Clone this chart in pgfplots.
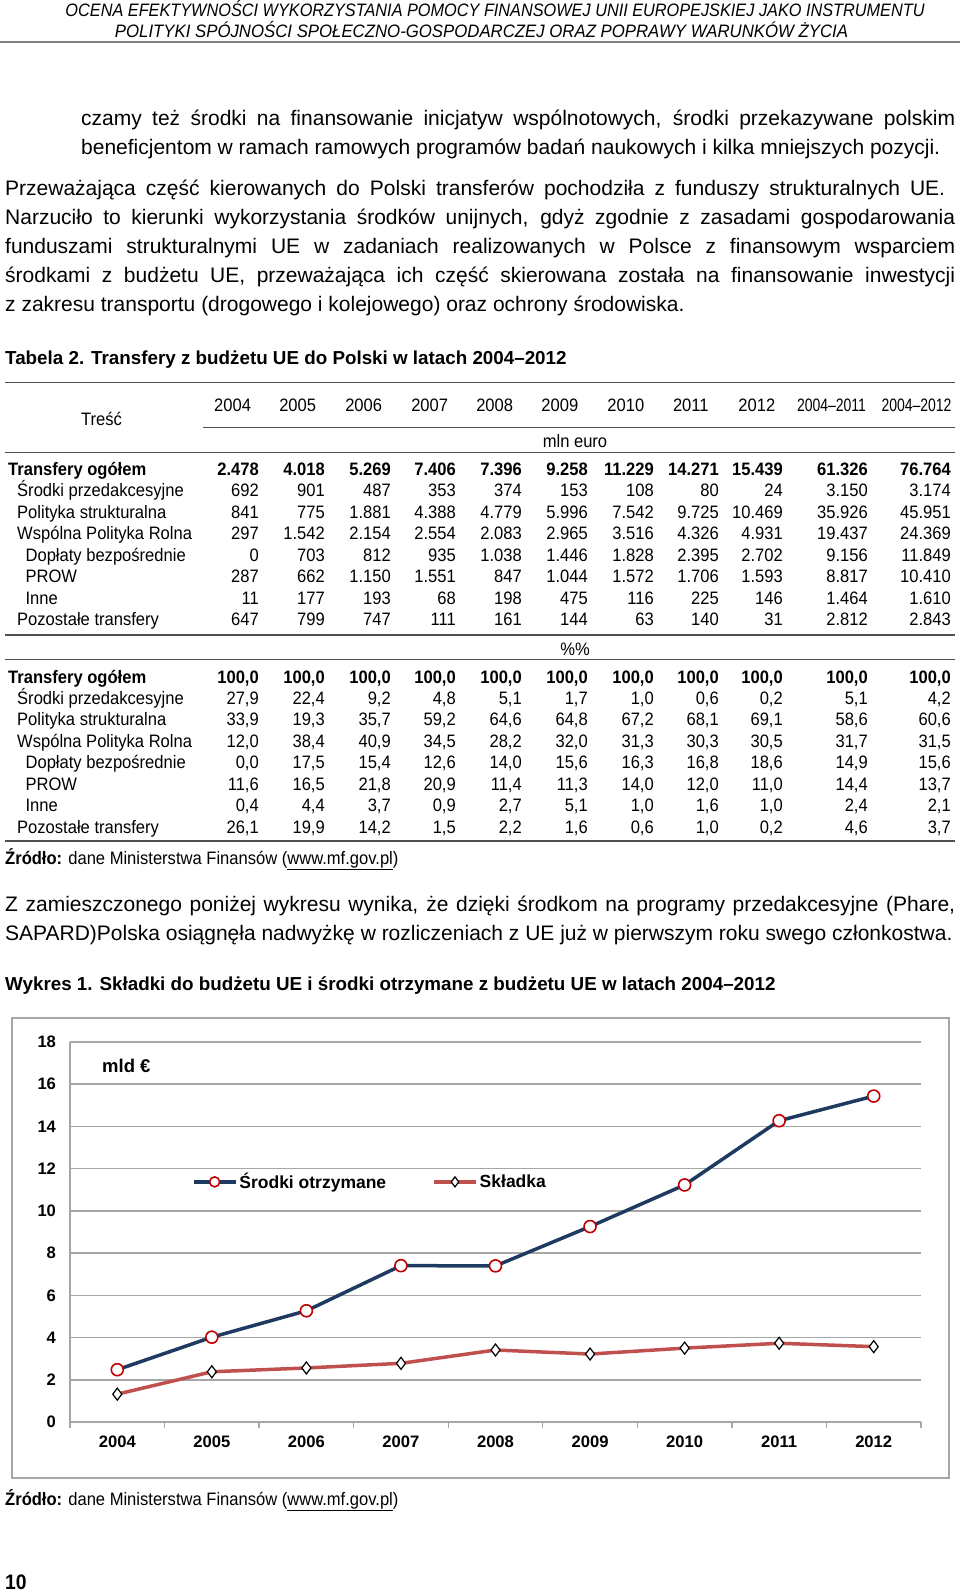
\documentclass[border=0pt]{standalone}
\usepackage{fontspec}
\setmainfont{Liberation Sans}
\newfontfamily\narrow[FakeStretch=0.92]{Liberation Sans}
\usepackage{graphicx}
\usepackage{pgfplots}
\pgfplotsset{compat=1.18}
\definecolor{navy}{HTML}{1F3A60}
\definecolor{mred}{HTML}{C00000}
\definecolor{salmon}{HTML}{C0504D}
\definecolor{rulegray}{HTML}{808080}
\definecolor{tgray}{HTML}{505050}
\newcommand\fs[1]{\fontsize{#1}{#1}\selectfont}
\newcommand\tf{\narrow\fs{18}}
\newcommand\jl[4]{\node[anchor=base west,inner sep=0] at (#1,#2) {\makebox[#3pt][s]{#4}};}
\newcommand\nl[3]{\node[anchor=base west,inner sep=0] at (#1,#2) {#3};}
\newcommand\trow[5]{%
  \node[anchor=base west,inner sep=0,font=#5] at (#2,#1) {#3};
  \foreach \v [count=\i] in {#4} {%
    \pgfmathsetmacro\cx{{259,325,391,456,522,588,654,719,783,868,951}[\i-1]}%
    \node[anchor=base east,inner sep=0,font=#5] at (\cx,#1) {\v};}%
}
\begin{document}
\begin{tikzpicture}
\begin{scope}[x=1pt,y=-1pt]
\path (0,0) rectangle (960,1593);
% header
\node[inner sep=0,anchor=base] at (495,16.5) {\narrow\itshape\fs{18}\resizebox{859pt}{\height}{OCENA EFEKTYWNOŚCI WYKORZYSTANIA POMOCY FINANSOWEJ UNII EUROPEJSKIEJ JAKO INSTRUMENTU}};
\node[inner sep=0,anchor=base] at (481.5,37) {\narrow\itshape\fs{18}\resizebox{733pt}{\height}{POLITYKI SPÓJNOŚCI SPOŁECZNO-GOSPODARCZEJ ORAZ POPRAWY WARUNKÓW ŻYCIA}};
\draw[rulegray,line width=2.5pt] (0,42) -- (960,42);
% body text
\begin{scope}[font=\fs{21}]
\jl{81}{125.5}{874}{czamy też środki na finansowanie inicjatyw wspólnotowych, środki przekazywane polskim}
\nl{81}{154}{beneficjentom w ramach ramowych programów badań naukowych i kilka mniejszych pozycji.}
\jl{5}{195.5}{940}{Przeważająca część kierowanych do Polski transferów pochodziła z funduszy strukturalnych UE.}
\jl{5}{224}{950}{Narzuciło to kierunki wykorzystania środków unijnych, gdyż zgodnie z zasadami gospodarowania}
\jl{5}{253.4}{950}{funduszami strukturalnymi UE w zadaniach realizowanych w Polsce z finansowym wsparciem}
\jl{5}{282.8}{950}{środkami z budżetu UE, przeważająca ich część skierowana została na finansowanie inwestycji}
\nl{5}{311.3}{z zakresu transportu (drogowego i kolejowego) oraz ochrony środowiska.}
\jl{5}{911.5}{950}{Z zamieszczonego poniżej wykresu wynika, że dzięki środkom na programy przedakcesyjne (Phare,}
\nl{5}{940}{SAPARD)Polska osiągnęła nadwyżkę w rozliczeniach z UE już w pierwszym roku swego członkostwa.}
\end{scope}
\nl{5}{364}{\fs{18.8}\bfseries Tabela 2. Transfery z budżetu UE do Polski w latach 2004–2012}
\nl{5}{990}{\fs{18.8}\bfseries Wykres 1. Składki do budżetu UE i środki otrzymane z budżetu UE w latach 2004–2012}
% table
\begin{scope}[tgray,line width=1.8pt]
\draw (5,382.5) -- (955,382.5);
\draw (203,427.5) -- (955,427.5);
\draw (5,452.5) -- (955,452.5);
\draw (5,635) -- (955,635);
\draw (5,659.5) -- (955,659.5);
\draw (5,841) -- (955,841);
\end{scope}
\node[anchor=base,inner sep=0,font=\tf] at (101.6,425.5) {Treść};
\foreach \yr/\cxx in {2004/232.6,2005/297.7,2006/363.7,2007/429.7,2008/494.7,2009/559.8,2010/625.8,2011/690.8,2012/756.8}
  \node[anchor=base,inner sep=0,font=\tf] at (\cxx,411.5) {\yr};
\node[anchor=base,inner sep=0,font=\tf] at (831.5,411.5) {\resizebox{69pt}{\height}{2004–2011}};
\node[anchor=base,inner sep=0,font=\tf] at (916.5,411.5) {\resizebox{70pt}{\height}{2004–2012}};
\node[anchor=base,inner sep=0,font=\tf] at (575,447.5) {mln euro};
\node[anchor=base,inner sep=0,font=\tf] at (575,655.5) {\%\%};
% block 1
\trow{475.5}{8}{Transfery ogółem}{2.478,4.018,5.269,7.406,7.396,9.258,11.229,14.271,15.439,61.326,76.764}{\tf\bfseries}
\trow{496.9}{17}{Środki przedakcesyjne}{692,901,487,353,374,153,108,80,24,3.150,3.174}{\tf}
\trow{518.4}{17}{Polityka strukturalna}{841,775,1.881,4.388,4.779,5.996,7.542,9.725,10.469,35.926,45.951}{\tf}
\trow{539.8}{17}{Wspólna Polityka Rolna}{297,1.542,2.154,2.554,2.083,2.965,3.516,4.326,4.931,19.437,24.369}{\tf}
\trow{561.2}{25.4}{Dopłaty bezpośrednie}{0,703,812,935,1.038,1.446,1.828,2.395,2.702,9.156,11.849}{\tf}
\trow{582.6}{25.4}{PROW}{287,662,1.150,1.551,847,1.044,1.572,1.706,1.593,8.817,10.410}{\tf}
\trow{604.1}{25.4}{Inne}{11,177,193,68,198,475,116,225,146,1.464,1.610}{\tf}
\trow{625.5}{17}{Pozostałe transfery}{647,799,747,111,161,144,63,140,31,2.812,2.843}{\tf}
% block 2
\trow{683}{8}{Transfery ogółem}{{100,0},{100,0},{100,0},{100,0},{100,0},{100,0},{100,0},{100,0},{100,0},{100,0},{100,0}}{\tf\bfseries}
\trow{704.4}{17}{Środki przedakcesyjne}{{27,9},{22,4},{9,2},{4,8},{5,1},{1,7},{1,0},{0,6},{0,2},{5,1},{4,2}}{\tf}
\trow{725.9}{17}{Polityka strukturalna}{{33,9},{19,3},{35,7},{59,2},{64,6},{64,8},{67,2},{68,1},{69,1},{58,6},{60,6}}{\tf}
\trow{747.3}{17}{Wspólna Polityka Rolna}{{12,0},{38,4},{40,9},{34,5},{28,2},{32,0},{31,3},{30,3},{30,5},{31,7},{31,5}}{\tf}
\trow{768.7}{25.4}{Dopłaty bezpośrednie}{{0,0},{17,5},{15,4},{12,6},{14,0},{15,6},{16,3},{16,8},{18,6},{14,9},{15,6}}{\tf}
\trow{790.1}{25.4}{PROW}{{11,6},{16,5},{21,8},{20,9},{11,4},{11,3},{14,0},{12,0},{11,0},{14,4},{13,7}}{\tf}
\trow{811.6}{25.4}{Inne}{{0,4},{4,4},{3,7},{0,9},{2,7},{5,1},{1,0},{1,6},{1,0},{2,4},{2,1}}{\tf}
\trow{833}{17}{Pozostałe transfery}{{26,1},{19,9},{14,2},{1,5},{2,2},{1,6},{0,6},{1,0},{0,2},{4,6},{3,7}}{\tf}
% sources
\nl{5}{864.5}{\tf\textbf{Źródło:} dane Ministerstwa Finansów (\underline{www.mf.gov.pl})}
\nl{5}{1505}{\tf\textbf{Źródło:} dane Ministerstwa Finansów (\underline{www.mf.gov.pl})}
\nl{5}{1589}{\narrow\fs{21}\bfseries 10}
% chart frame
\draw[gray!70,line width=2pt] (12,1018) rectangle (949,1478);
\node[anchor=west,inner sep=0] at (102,1066) {\fs{18.5}\bfseries mld €};
\end{scope}
\begin{axis}[
  at={(70pt,-1422pt)}, anchor=south west, scale only axis,
  width=851pt, height=380pt,
  xmin=-0.5, xmax=8.5, ymin=0, ymax=18,
  xtick={0,...,8}, xticklabels={2004,2005,2006,2007,2008,2009,2010,2011,2012},
  ytick={0,2,...,18},
  minor xtick={-0.5,0.5,...,8.5},
  axis x line*=bottom, axis y line*=left,
  axis line style={draw=gray!70, line width=1.5pt},
  ymajorgrids, major grid style={draw=gray!70, line width=1.5pt},
  major tick length=0pt, minor tick length=6pt, tick align=outside,
  minor tick style={draw=gray!70, line width=1.3pt},
  ticklabel style={font=\fs{16.6}\bfseries},
  /pgf/number format/assume math mode=true,
  yticklabel style={xshift=-10.5pt},
  xticklabel style={yshift=-10pt},
  clip=false,
  legend columns=2,
  legend style={draw=none, fill=none, at={(0.143,0.632)}, anchor=west,
    font=\fs{17.5}\bfseries, inner xsep=0pt, inner ysep=0pt,
    /tikz/every even column/.append style={column sep=44pt}},
  legend image code/.code={\draw[mark repeat=2,mark phase=2,mark size=5pt] plot coordinates {(0pt,0pt) (21pt,0pt) (42pt,0pt)};},
]
\addplot[navy, line width=3.5pt, mark=*, mark size=6pt,
  mark options={fill=white, draw=mred, line width=1.6pt}]
  coordinates {(0,2.478) (1,4.018) (2,5.269) (3,7.406) (4,7.396) (5,9.258) (6,11.229) (7,14.271) (8,15.439)};
\addlegendentry{Środki otrzymane}
\addplot[salmon, line width=3.5pt, mark=diamond*, mark size=6pt,
  mark options={fill=white, draw=black, line width=1.2pt}]
  coordinates {(0,1.32) (1,2.38) (2,2.56) (3,2.78) (4,3.41) (5,3.22) (6,3.50) (7,3.73) (8,3.57)};
\addlegendentry{Składka}
\end{axis}
\pgfresetboundingbox
\path[use as bounding box] (0pt,0pt) rectangle (960pt,-1593pt);
\end{tikzpicture}
\end{document}
